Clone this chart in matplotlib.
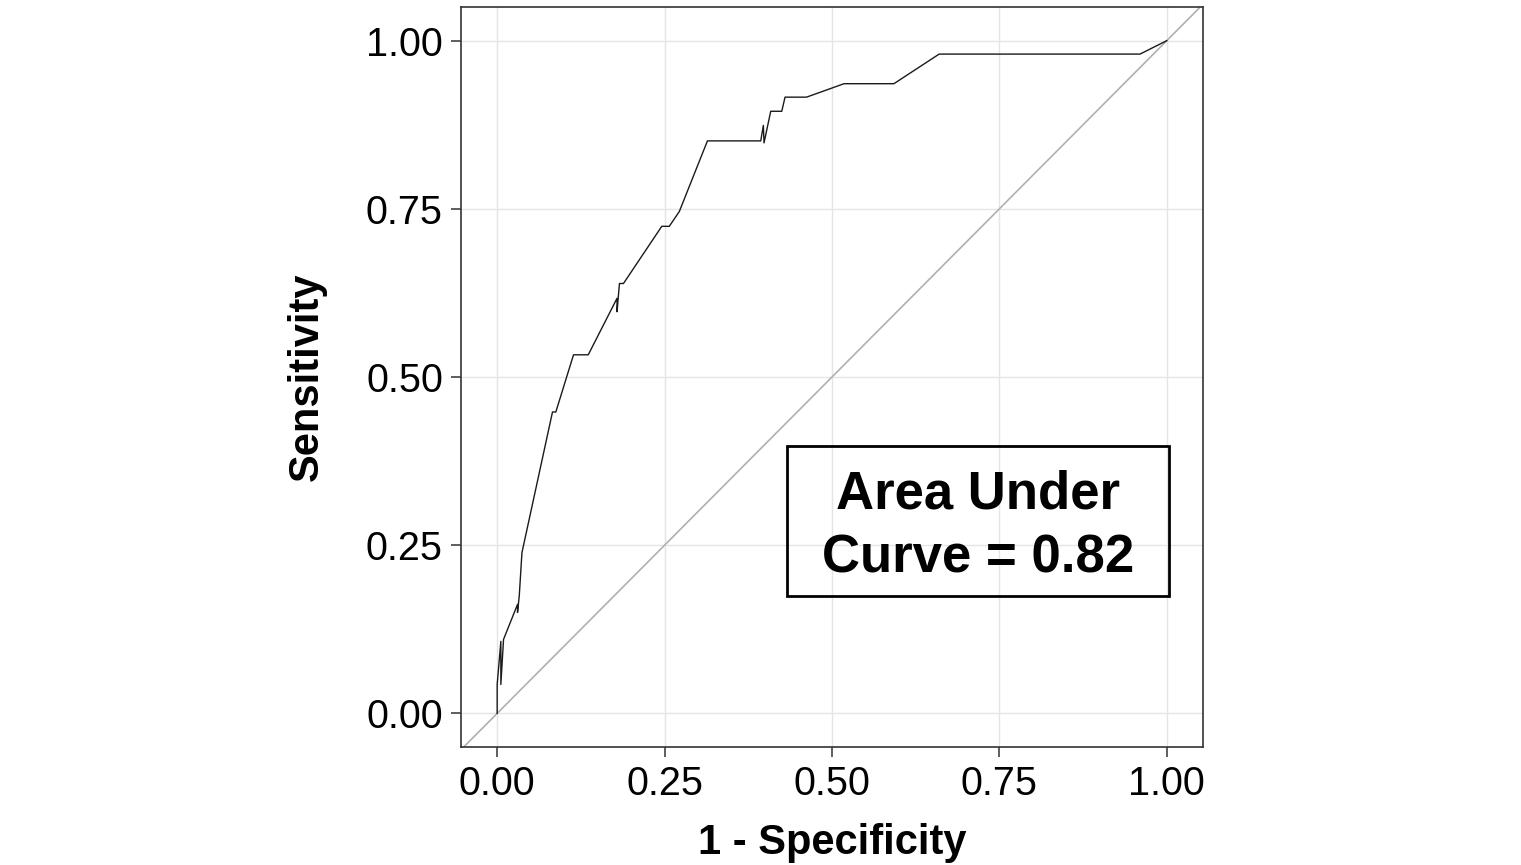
import matplotlib
matplotlib.use("Agg")
import matplotlib.pyplot as plt
from matplotlib.patches import Rectangle

plt.rcParams['font.family'] = ['Liberation Sans', 'DejaVu Sans']

# ROC curve
fpr = [0, 0, 0.0055, 0.0055, 0.0095, 0.0304, 0.0304, 0.033, 0.037, 0.0826,
       0.0876, 0.114, 0.136, 0.179, 0.179, 0.1826, 0.1886, 0.2458, 0.257,
       0.272, 0.314, 0.3936, 0.3975, 0.3985, 0.4085, 0.425, 0.4299, 0.462,
       0.518, 0.5925, 0.66, 0.96, 1.0]
tpr = [0, 0.043, 0.107, 0.043, 0.11, 0.162, 0.150, 0.175, 0.239, 0.448,
       0.448, 0.533, 0.533, 0.617, 0.597, 0.639, 0.639, 0.724, 0.724,
       0.746, 0.851, 0.851, 0.874, 0.848, 0.895, 0.895, 0.916, 0.916,
       0.936, 0.936, 0.98, 0.98, 1.0]
ticks = [0.0, 0.25, 0.5, 0.75, 1.0]
tick_labels = ["0.00", "0.25", "0.50", "0.75", "1.00"]
auc_text = "Area Under\nCurve = 0.82"

fig = plt.figure(figsize=(15.21, 8.65), dpi=100)
ax = fig.add_axes([0.3031, 0.1364, 0.4878, 0.8555])

ax.grid(True, color='#e5e5e5', linewidth=1.0)
ax.set_axisbelow(True)

ax.axline((0, 0), (1, 1), color='#b0b0b0', linewidth=1.2)
ax.plot(fpr, tpr, color='#1a1a1a', linewidth=1.0)

# AUC box
ax.add_patch(Rectangle((0.433, 0.174), 0.570, 0.224, fill=False,
                       edgecolor='black', linewidth=2.0, zorder=3))
ax.text(0.718, 0.278, auc_text, ha='center', va='center', fontsize=38,
        fontweight='bold', linespacing=1.36, zorder=4)

ax.set_xlim(-0.054, 1.054)
ax.set_ylim(-0.05, 1.05)
ax.set_xticks(ticks)
ax.set_xticklabels(tick_labels)
ax.set_yticks(ticks)
ax.set_yticklabels(tick_labels)
ax.tick_params(labelsize=28.5, length=7, width=1.1, color='#333333',
               labelcolor='black', pad=6)

for s in ax.spines.values():
    s.set_color('#333333')
    s.set_linewidth(1.2)

ax.set_xlabel("1 - Specificity", fontsize=30, fontweight='bold', labelpad=14)
ax.set_ylabel("Sensitivity", fontsize=30, fontweight='bold', labelpad=28)

fig.savefig("out.png", dpi=100)
